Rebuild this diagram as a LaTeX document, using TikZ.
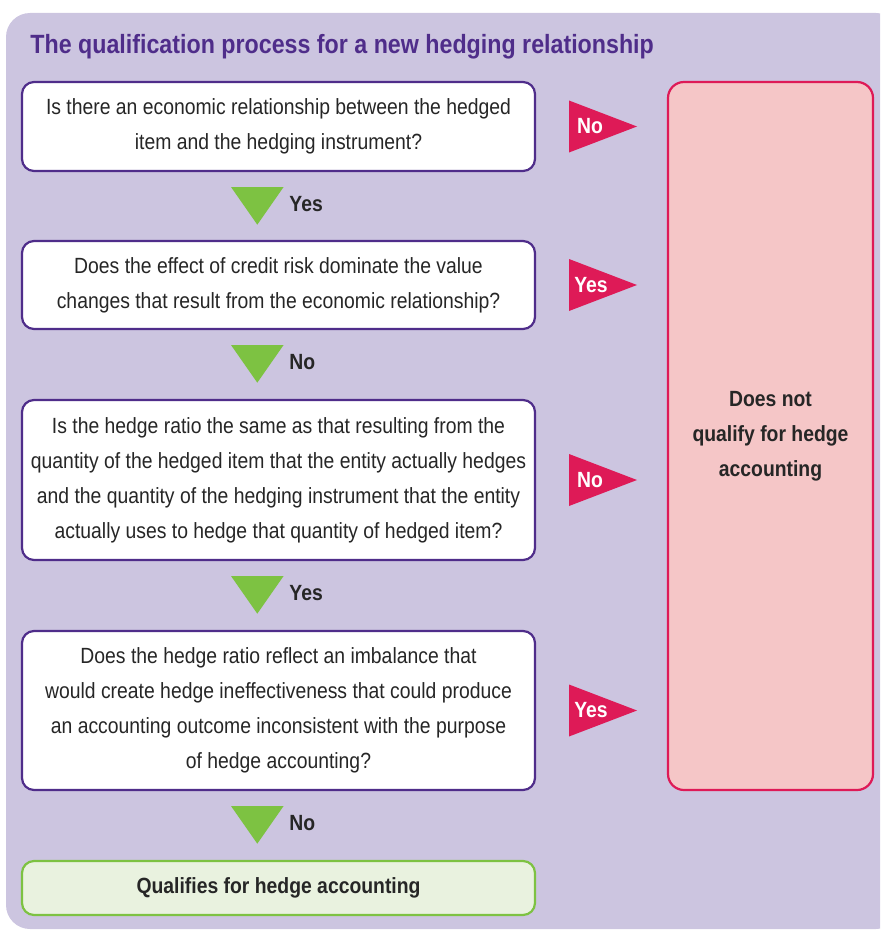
\documentclass[tikz,border=0pt]{standalone}
\usepackage{fontspec}
\setmainfont{Liberation Sans}[FakeStretch=0.88]
\usetikzlibrary{positioning}
\definecolor{lavender}{HTML}{CCC5E0}
\definecolor{deeppurple}{HTML}{4F2D8A}
\definecolor{crimson}{HTML}{DE1A57}
\definecolor{blush}{HTML}{F5C6C7}
\definecolor{leafgreen}{HTML}{7DC242}
\definecolor{palegreen}{HTML}{E9F2DF}
\newcommand{\bodyfont}{\fontsize{11}{17.5}\selectfont}

\begin{document}
\begin{tikzpicture}[x=0.5pt,y=0.5pt,
    question/.style={draw=deeppurple,line width=1.1pt,fill=white,rounded corners=6pt,outer sep=0pt,
      minimum width=256.5pt,align=center,font=\bodyfont,text=black!85},
    answer/.style={font=\bodyfont\bfseries,text=black!85,inner sep=0pt},
    tagred/.style={font=\bodyfont\bfseries,text=white,inner sep=0pt}]
     \useasboundingbox (0,0) rectangle (880,-931);
     \clip (0,0) rectangle (880,-931);
     \fill[lavender,rounded corners=12] (6,-929) rectangle (900,-13);
     % title
     \node[anchor=west,inner sep=0pt,text=deeppurple,font=\fontsize{13.2}{16}\selectfont\bfseries]
          (title) at (30,-47) {The qualification process for a new hedging relationship};
     % questions
     \node[question,minimum height=44.5pt] (q1) at (278.5,-126.5)
          {Is there an economic relationship between the hedged\\item and the hedging instrument?};
     \node[question,minimum height=44pt,below=35pt of q1] (q2)
          {Does the effect of credit risk dominate the value\\changes that result from the economic relationship?};
     \node[question,minimum height=80pt,below=35.5pt of q2] (q3)
          {Is the hedge ratio the same as that resulting from the\\quantity of the hedged item that the entity actually hedges\\and the quantity of the hedging instrument that the entity\\actually uses to hedge that quantity of hedged item?};
     \node[question,minimum height=79.5pt,below=35.5pt of q3] (q4)
          {Does the hedge ratio reflect an imbalance that\\would create hedge ineffectiveness that could produce\\an accounting outcome inconsistent with the purpose\\of hedge accounting?};
     \node[question,draw=leafgreen,fill=palegreen,minimum height=27pt,below=35.5pt of q4,
           font=\bodyfont\bfseries] (ok) {Qualifies for hedge accounting};
     \node[draw=crimson,line width=1.1pt,fill=blush,rounded corners=8pt,outer sep=0pt,
           minimum width=102.5pt,minimum height=354pt,align=center,font=\bodyfont\bfseries,
           text=black!85,right=66.5pt of q1.north east,anchor=north west] (fail)
          {Does not\\qualify for hedge\\accounting};
     % green arrows down
     \path (q1.south) ++(-47.5,-16) coordinate (g1);
     \fill[leafgreen] (g1) -- ++(52.6,0) -- ++(-26.3,-37.7) -- cycle;
     \path (g1) ++(58,-17) node[answer,anchor=west] (y1) {Yes};
     \path (q2.south) ++(-47.5,-16) coordinate (g2);
     \fill[leafgreen] (g2) -- ++(52.6,0) -- ++(-26.3,-37.7) -- cycle;
     \path (g2) ++(58,-17) node[answer,anchor=west] (n2) {No};
     \path (q3.south) ++(-47.5,-16) coordinate (g3);
     \fill[leafgreen] (g3) -- ++(52.6,0) -- ++(-26.3,-37.7) -- cycle;
     \path (g3) ++(58,-17) node[answer,anchor=west] (y3) {Yes};
     \path (q4.south) ++(-47.5,-16) coordinate (g4);
     \fill[leafgreen] (g4) -- ++(52.6,0) -- ++(-26.3,-37.7) -- cycle;
     \path (g4) ++(58,-17) node[answer,anchor=west] (n4) {No};
     % red arrows right
     \path (q1.east) ++(34,26) coordinate (r1);
     \fill[crimson] (r1) -- ++(68,-26) -- ++(-68,-26) -- cycle;
     \path (r1) ++(21,-26) node[tagred] (rn1) {No};
     \path (q2.east) ++(34,26) coordinate (r2);
     \fill[crimson] (r2) -- ++(68,-26) -- ++(-68,-26) -- cycle;
     \path (r2) ++(22,-26) node[tagred] (ry2) {Yes};
     \path (q3.east) ++(34,26) coordinate (r3);
     \fill[crimson] (r3) -- ++(68,-26) -- ++(-68,-26) -- cycle;
     \path (r3) ++(21,-26) node[tagred] (rn3) {No};
     \path (q4.east) ++(34,26) coordinate (r4);
     \fill[crimson] (r4) -- ++(68,-26) -- ++(-68,-26) -- cycle;
     \path (r4) ++(22,-26) node[tagred] (ry4) {Yes};
\end{tikzpicture}
\end{document}
